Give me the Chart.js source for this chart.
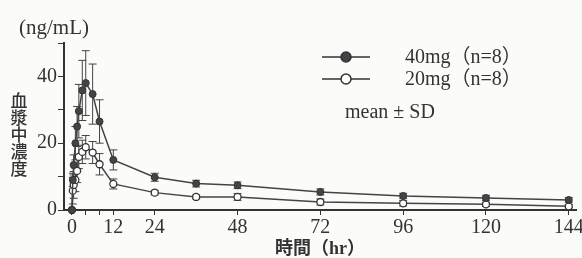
<!DOCTYPE html>
<html>
<head>
<meta charset="utf-8">
<script src="https://cdn.jsdelivr.net/npm/chart.js@4/dist/chart.umd.min.js"></script>
<style>
  html, body { margin: 0; padding: 0; background: #fbfbf9; }
  canvas { display: block; }
</style>
</head>
<body>
<canvas id="pk-chart" width="582" height="258"></canvas>
<script>
// 採血時間 (hr)
const times = [0, 0.25, 0.5, 1, 1.5, 2, 3, 4, 6, 8, 12, 24, 36, 48, 72, 96, 120, 144];
// 40mg (n=8) 平均値 / SD
const mean40 = [0, 9, 13.5, 20, 25, 29.6, 35.8, 38, 34.7, 26.5, 15, 9.8, 7.9, 7.4, 5.4, 4.2, 3.6, 3.0];
const sd40 = [0, 2, 3, 5, 6, 8, 9, 9.7, 9, 6.5, 3, 1.2, 1.0, 1.0, 0.9, 0.8, 0.8, 0.7];
// 20mg (n=8) 平均値 / SD
const mean20 = [0, 5.8, 7.5, 9, 11.7, 15.9, 17.4, 18.8, 17.2, 13.7, 7.8, 5.2, 3.9, 3.9, 2.4, 2.0, 1.7, 1.1];
const sd20 = [0, 4, 4, 3.5, 3.5, 3.5, 3.5, 3.5, 3.3, 3.2, 1.5, 0.7, 0.6, 1.0, 0.9, 0.8, 0.6, 0.5];

const xTicks = [0, 4, 8, 12, 24, 48, 72, 96, 120, 144];
const xLabels = [0, 12, 24, 48, 72, 96, 120, 144];
const yLabels = [0, 20, 40];

const ink = '#333';
const serif = '"Liberation Serif", "DejaVu Serif", serif';
const cjk = '"Noto Sans CJK JP", "Noto Sans CJK SC", sans-serif';

const toPoints = (m) => times.map((t, i) => ({ x: t, y: m[i] }));

// SDのエラーバー
const errorBars = {
  id: 'errorBars',
  beforeDatasetsDraw(chart) {
    const { ctx, scales: { x, y } } = chart;
    ctx.save();
    ctx.strokeStyle = '#444';
    ctx.lineWidth = 1;
    [[mean40, sd40], [mean20, sd20]].forEach(([m, s]) => {
      times.forEach((t, i) => {
        if (!s[i]) return;
        const px = x.getPixelForValue(t);
        const top = y.getPixelForValue(m[i] + s[i]);
        const bot = y.getPixelForValue(Math.max(0, m[i] - s[i]));
        ctx.beginPath();
        ctx.moveTo(px, top); ctx.lineTo(px, bot);
        ctx.moveTo(px - 4, top); ctx.lineTo(px + 4, top);
        ctx.moveTo(px - 4, bot); ctx.lineTo(px + 4, bot);
        ctx.stroke();
      });
    });
    ctx.restore();
  }
};

// 軸タイトルと凡例
const annotations = {
  id: 'annotations',
  afterDraw(chart) {
    const { ctx } = chart;
    ctx.save();
    ctx.fillStyle = ink;
    ctx.textBaseline = 'middle';

    ctx.font = '21px ' + serif;
    ctx.textAlign = 'left';
    ctx.fillText('(ng/mL)', 19, 28);

    ctx.font = '500 17px ' + cjk;
    ctx.textAlign = 'center';
    '血漿中濃度'.split('').forEach((ch, i) => ctx.fillText(ch, 19, 101 + i * 17));

    ctx.font = 'bold 18px ' + serif + ', ' + cjk;
    ctx.fillText('時間（hr）', 320, 249);

    // 凡例
    const rows = [
      { label: '40mg（n=8）', fill: '#444', y: 57 },
      { label: '20mg（n=8）', fill: '#fff', y: 79 }
    ];
    rows.forEach(r => {
      ctx.strokeStyle = ink;
      ctx.lineWidth = 1.5;
      ctx.beginPath();
      ctx.moveTo(322, r.y); ctx.lineTo(370, r.y);
      ctx.stroke();
      ctx.beginPath();
      ctx.arc(346, r.y, 5, 0, Math.PI * 2);
      ctx.fillStyle = r.fill;
      ctx.fill();
      ctx.stroke();
      ctx.fillStyle = ink;
      ctx.font = '20px ' + serif + ', ' + cjk;
      ctx.textAlign = 'left';
      ctx.fillText(r.label, 405, r.y + 1);
    });
    ctx.font = '20px ' + serif;
    ctx.fillText('mean ± SD', 345, 113);
    ctx.restore();
  }
};

new Chart(document.getElementById('pk-chart'), {
  type: 'scatter',
  data: {
    datasets: [
      {
        label: '40mg (n=8)',
        data: toPoints(mean40),
        showLine: true,
        borderColor: '#444',
        borderWidth: 1.5,
        pointRadius: 3.5,
        pointBackgroundColor: '#444',
        pointBorderColor: ink,
        pointBorderWidth: 1,
        clip: false
      },
      {
        label: '20mg (n=8)',
        data: toPoints(mean20),
        showLine: true,
        borderColor: '#444',
        borderWidth: 1.5,
        pointRadius: 3.5,
        pointBackgroundColor: '#fff',
        pointBorderColor: ink,
        pointBorderWidth: 1.3,
        clip: false
      }
    ]
  },
  options: {
    responsive: false,
    animation: false,
    devicePixelRatio: 1,
    layout: { padding: { top: 43, right: 5, left: 0, bottom: 0 } },
    plugins: {
      legend: { display: false },
      tooltip: { enabled: false }
    },
    scales: {
      x: {
        type: 'linear',
        min: -2.3,
        max: 146.3,
        afterBuildTicks: (scale) => { scale.ticks = xTicks.map(v => ({ value: v })); },
        afterFit: (scale) => { scale.height = 48; scale.paddingLeft = 0; scale.paddingRight = 0; },
        ticks: {
          autoSkip: false,
          maxRotation: 0,
          padding: 1,
          color: ink,
          font: { family: serif, size: 20 },
          callback: (v) => xLabels.includes(v) ? String(v) : ''
        },
        grid: { drawOnChartArea: false, tickLength: 5, color: ink },
        border: { color: ink, width: 2 }
      },
      y: {
        min: 0,
        max: 50,
        afterFit: (scale) => { scale.width = 64; scale.paddingTop = 0; scale.paddingBottom = 0; },
        ticks: {
          stepSize: 10,
          padding: 1,
          color: ink,
          font: { family: serif, size: 20 },
          callback: (v) => yLabels.includes(v) ? String(v) : ''
        },
        grid: { drawOnChartArea: false, tickLength: 6, color: ink },
        border: { color: ink, width: 2 }
      }
    }
  },
  plugins: [errorBars, annotations]
});
</script>
</body>
</html>
